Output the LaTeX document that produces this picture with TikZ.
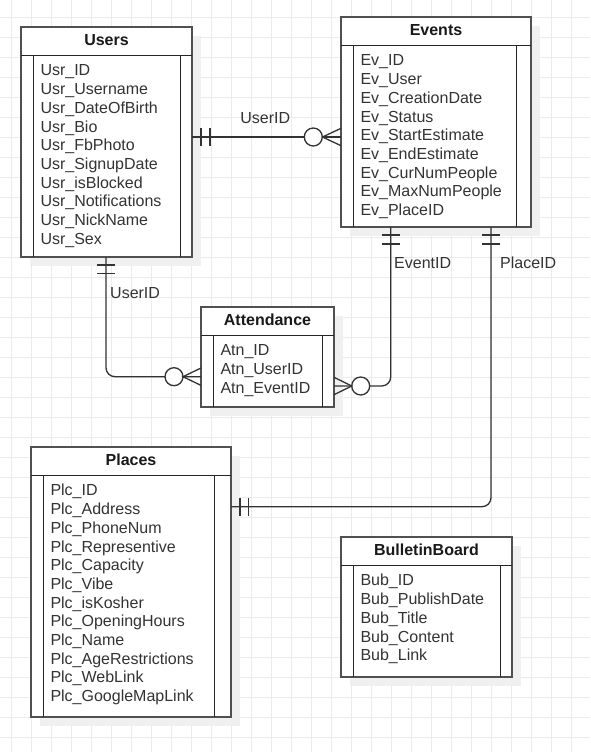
\documentclass[tikz,border=0pt]{standalone}
\usepackage{fontspec}
\setmainfont{Liberation Sans}
\definecolor{gridc}{HTML}{EBEBEB}
\definecolor{shadowc}{HTML}{F0F0F0}
\definecolor{borderc}{HTML}{505050}
\definecolor{linec}{HTML}{333333}
\definecolor{textc}{HTML}{333333}
\tikzset{
 entbox/.style={draw=borderc, line width=2pt, fill=white, inner sep=0pt, outer sep=0pt, rectangle},
 hdrline/.style={draw=black!85, line width=1.2pt},
 innerline/.style={draw=black!85, line width=1.1pt},
 entitle/.style={font=\bfseries\fontsize{16}{19}\selectfont, text=black!90, inner sep=0pt, anchor=base},
 fieldtxt/.style={font=\fontsize{16}{18.7}\selectfont, text=textc, inner sep=0pt, anchor=base west},
 conn/.style={draw=linec, line width=1.3pt, rounded corners=9pt},
 ermark/.style={draw=linec, line width=1.3pt},
 zcirc/.style={draw=linec, line width=1.3pt, fill=white},
 lbl/.style={font=\fontsize{16}{19}\selectfont, text=textc, inner sep=0pt},
 gridline/.style={draw=gridc, line width=1pt},
}
% #1 name, #2 x, #3 y, #4 width, #5 height, #6 right inner offset, #7 title, #8 fields
\newcommand\erent[8]{%
 \fill[shadowc] (#2+9,#3+9) rectangle (#2+#4+9,#3+#5+9);
 \node[entbox, minimum width=#4, minimum height=#5, anchor=north west] (#1) at (#2,#3) {};
 \draw[hdrline] (#2,#3+28.5) -- (#2+#4,#3+28.5);
 \draw[innerline] (#2+12.5,#3+28.5) -- (#2+12.5,#3+#5);
 \draw[innerline] (#2+#4-#6,#3+28.5) -- (#2+#4-#6,#3+#5);
 \node[entitle] (#1-title) at (#2+#4/2,#3+18.6) {#7};
 \foreach \f [count=\i from 0] in {#8} {
   \node[fieldtxt] (#1-f\i) at (#2+19.3,#3+48.9+18.7*\i) {\f};
 }%
}
\begin{document}
\begin{tikzpicture}[x=1pt,y=-1pt]
\useasboundingbox (0,0) rectangle (590,752);
\fill[white] (0,0) rectangle (590,752);
\foreach \k in {0,...,29} { \draw[gridline] (11.7+20*\k,0) -- (11.7+20*\k,752); }
\foreach \k in {0,...,36} { \draw[gridline] (0,17.3+20*\k) -- (590,17.3+20*\k); }

\erent{users}{21}{27}{171}{230}{11.5}{Users}{Usr\_ID,Usr\_Username,Usr\_DateOfBirth,Usr\_Bio,Usr\_FbPhoto,Usr\_SignupDate,Usr\_isBlocked,Usr\_Notifications,Usr\_NickName,Usr\_Sex}
\erent{events}{341}{17}{190}{210}{14.5}{Events}{Ev\_ID,Ev\_User,Ev\_CreationDate,Ev\_Status,Ev\_StartEstimate,Ev\_EndEstimate,Ev\_CurNumPeople,Ev\_MaxNumPeople,Ev\_PlaceID}
\erent{attendance}{201}{307}{133}{100}{11.5}{Attendance}{Atn\_ID,Atn\_UserID,Atn\_EventID}
\erent{places}{31}{447}{200}{270}{16.5}{Places}{Plc\_ID,Plc\_Address,Plc\_PhoneNum,Plc\_Representive,Plc\_Capacity,Plc\_Vibe,Plc\_isKosher,Plc\_OpeningHours,Plc\_Name,Plc\_AgeRestrictions,Plc\_WebLink,Plc\_GoogleMapLink}
\erent{bulletin}{341}{537}{171}{140}{11.5}{BulletinBoard}{Bub\_ID,Bub\_PublishDate,Bub\_Title,Bub\_Content,Bub\_Link}

% Users -- Events
\draw[conn] (users.east |- 0,137) -- (events.west |- 0,137);
\draw[ermark] (201,128.3) -- (201,145.7) (210,128.3) -- (210,145.7);
\draw[zcirc] (313.3,137) circle[radius=9];
\draw[ermark] (341,128.3) -- (322.5,137) -- (341,145.7);
\node[lbl, anchor=base] (lblUE) at (265.3,123.3) {UserID};

% Events -- Attendance
\draw[conn] (events.south -| 390.7,0) -- (390.7,386) -- (attendance.east |- 0,386);
\draw[ermark] (381.7,235) -- (399.7,235) (381.7,244) -- (399.7,244);
\draw[zcirc] (360.7,386) circle[radius=9];
\draw[ermark] (334,377.3) -- (351.8,386) -- (334,394.7);
\node[lbl, anchor=base west] (lblEA) at (394,268.3) {EventID};

% Events -- Places
\draw[conn] (events.south -| 491,0) -- (491,506.7) -- (places.east |- 0,506.7);
\draw[ermark] (482,235) -- (500,235) (482,244) -- (500,244);
\draw[ermark] (240,497.7) -- (240,515.7) (248.3,497.7) -- (248.3,515.7);
\node[lbl, anchor=base west] (lblEP) at (500,268.3) {PlaceID};

% Users -- Attendance
\draw[conn] (users.south -| 106,0) -- (106,376.7) -- (attendance.west |- 0,376.7);
\draw[ermark] (97,265) -- (115,265) (97,273.3) -- (115,273.3);
\draw[zcirc] (174,376.7) circle[radius=9];
\draw[ermark] (201,368) -- (183,376.7) -- (201,385.4);
\node[lbl, anchor=base west] (lblUA) at (110,298.3) {UserID};
\end{tikzpicture}
\end{document}
